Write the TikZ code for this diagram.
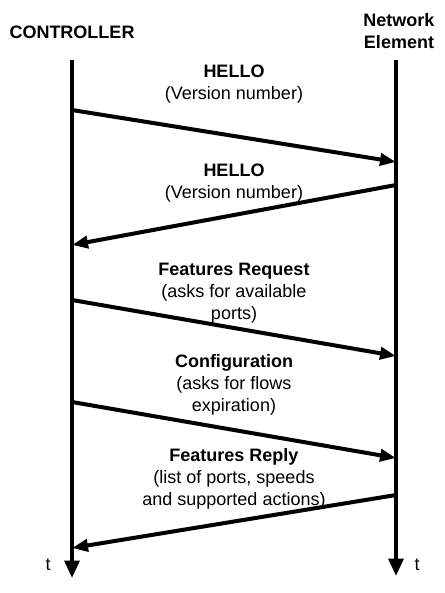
\documentclass[tikz,border=0pt]{standalone}
\usepackage{fontspec}
\setmainfont{Liberation Sans}
\usetikzlibrary{arrows.meta}

\begin{document}
\begin{tikzpicture}[x=0.75pt,y=0.75pt,yscale=-1,xscale=1,
    lifeline/.style={line width=3pt,-{Triangle[length=13pt,width=11pt]}},
    msg/.style={line width=3pt,-{Triangle[length=12pt,width=9pt]}},
    txt/.style={inner sep=0.75pt,align=center,font=\fontsize{13.5}{16.7}\selectfont}]
    \useasboundingbox (0,0) rectangle (444,593);

    % Lifelines
    \coordinate (ctrlTop) at (72,60);
    \coordinate (ctrlEnd) at (72,578);
    \coordinate (neTop) at (396,60);
    \coordinate (neEnd) at (396,576);
    \draw [lifeline] (ctrlTop) -- (ctrlEnd);
    \draw [lifeline] (neTop) -- (neEnd);

    % Text Node
    \draw (72,32) node [txt] (ctrl) {\textbf{CONTROLLER}};
    % Text Node
    \draw (399,31) node [txt] (ne) {\textbf{Network}\\\textbf{Element}};
    % Text Node
    \draw (48,565) node [txt] (tCtrl) {t};
    % Text Node
    \draw (417,565) node [txt] (tNe) {t};

    % Message end points
    \coordinate (m1a) at (72,110);
    \coordinate (m1b) at (396,162);
    \coordinate (m2a) at (396,185);
    \coordinate (m2b) at (72,245);
    \coordinate (m3a) at (72,300);
    \coordinate (m3b) at (396,356);
    \coordinate (m4a) at (72,402);
    \coordinate (m4b) at (396,458);
    \coordinate (m5a) at (396,495);
    \coordinate (m5b) at (72,548);

    % Messages
    \draw [msg] (m1a) -- (m1b);
    \draw [msg] (m2a) -- (m2b);
    \draw [msg] (m3a) -- (m3b);
    \draw [msg] (m4a) -- (m4b);
    \draw [msg] (m5a) -- (m5b);

    % Text Node
    \draw (234,84) node [txt] (hello1) {\textbf{HELLO}\\(Version number)};
    % Text Node
    \draw (234,183) node [txt] (hello2) {\textbf{HELLO}\\(Version number)};
    % Text Node
    \draw (234,293) node [txt] (featReq) {\textbf{Features Request}\\(asks for available\\ports)};
    % Text Node
    \draw (234,385) node [txt] (config) {\textbf{Configuration}\\(asks for flows\\expiration)};
    % Text Node
    \draw (234,479) node [txt] (featRep) {\textbf{Features Reply}\\(list of ports, speeds\\and supported actions)};

\end{tikzpicture}
\end{document}
